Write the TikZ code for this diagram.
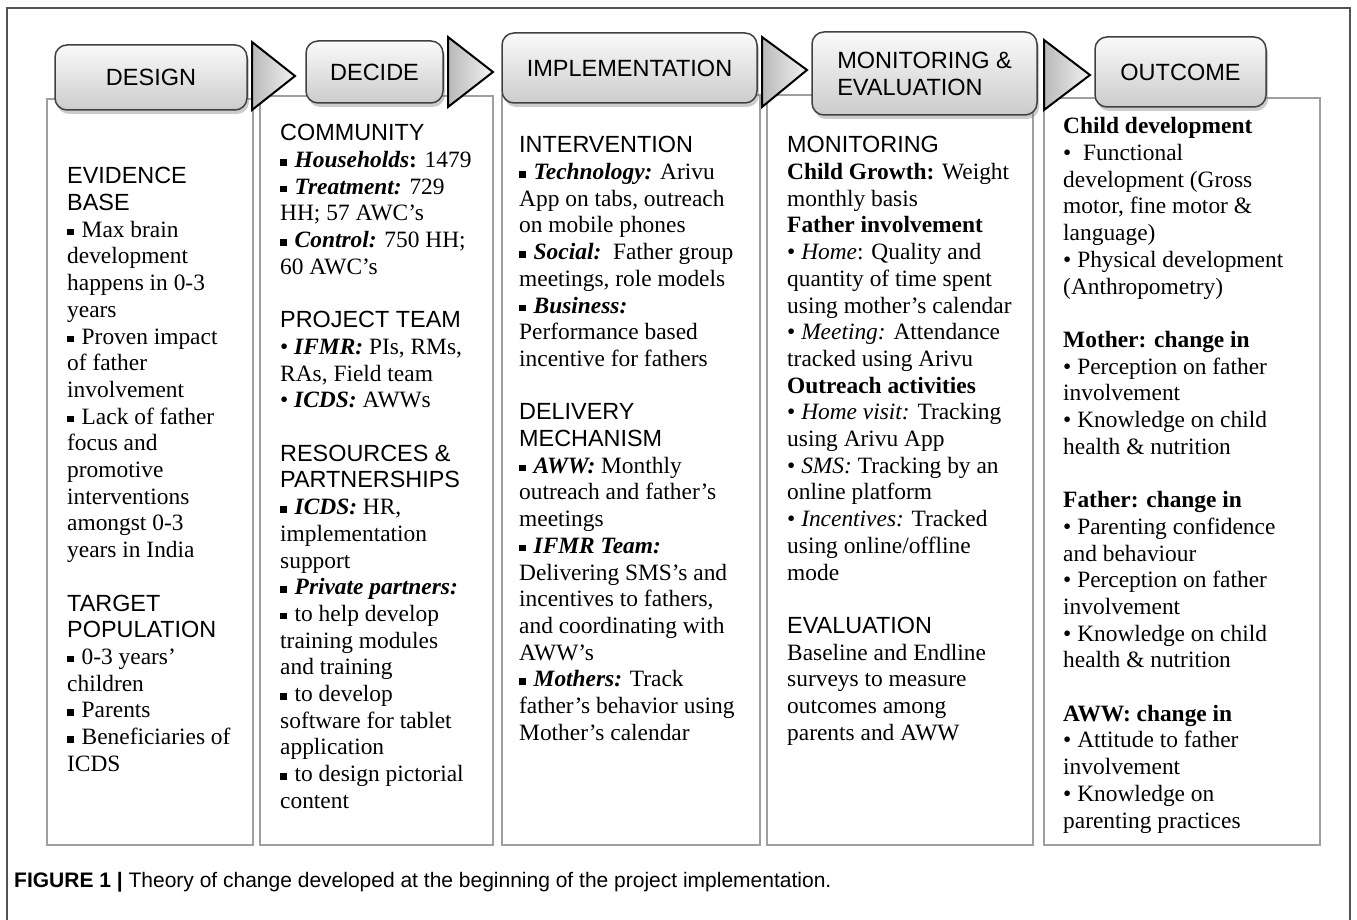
\documentclass[tikz,border=0pt]{standalone}
\usepackage{fontspec}
\setmainfont{Liberation Serif}
\setsansfont{Liberation Sans}
\usetikzlibrary{shadows}
\newcommand{\sqbul}{\rule[2pt]{6.5pt}{6.5pt}\hspace{8pt}}
\tikzset{
  stage/.style={draw=gray!50!black, line width=1.5pt, rounded corners=12pt,
    top color=gray!4, bottom color=gray!40,
    drop shadow={shadow xshift=2pt, shadow yshift=-4pt, opacity=0.4},
    font=\sffamily\fontsize{23.5}{27}\selectfont, inner sep=0pt},
  chev/.style={draw=black, line width=2pt, left color=gray!55, right color=gray!10},
  col/.style={draw=gray!75, line width=1.5pt},
  txt/.style={anchor=north west, align=left, inner sep=0pt,
    font=\fontsize{23.4}{26.7}\selectfont},
}
\begin{document}
\begin{tikzpicture}[x=1pt,y=-1pt]
\useasboundingbox (0,0) rectangle (1357,920);
% outer frame
\draw[gray!65!black, line width=1.2pt] (7,920) -- (7,8) -- (1350,8) -- (1350,920);
% column boxes
\draw[col] (47,99) rectangle (253,845);
\draw[col] (260,96) rectangle (493,845);
\draw[col] (502,95) rectangle (760,845);
\draw[col] (767,95) rectangle (1033,845);
\draw[col] (1044,98) rectangle (1320,845);
% chevrons
\draw[chev] (252,42) -- (295,76) -- (252,110) -- cycle;
\draw[chev] (448,37) -- (493,72) -- (448,107) -- cycle;
\draw[chev] (762,37) -- (807,70) -- (762,107) -- cycle;
\draw[chev] (1044,40) -- (1090,75) -- (1044,110) -- cycle;
% stage headers
\node[stage, minimum width=192pt, minimum height=65pt] (design) at (151,77.5) {DESIGN};
\node[stage, minimum width=137pt, minimum height=62pt] (decide) at (374.5,72) {DECIDE};
\node[stage, minimum width=255pt, minimum height=70pt] (implement) at (629.5,68) {IMPLEMENTATION};
\node[stage, minimum width=225pt, minimum height=83pt, align=left] (monev) at (924.5,73.5) {MONITORING \&\\EVALUATION};
\node[stage, minimum width=171pt, minimum height=70pt] (outcome) at (1180.5,72) {OUTCOME};
% column texts
\node[txt] (designtxt) at (67,165) {\strut\textsf{EVIDENCE}\\
\textsf{BASE}\\
\sqbul Max brain\\
development\\
happens in 0-3\\
years\\
\sqbul Proven impact\\
of father\\
involvement\\
\sqbul Lack of father\\
focus and\\
promotive\\
interventions\\
amongst 0-3\\
years in India\\[26.7pt]
\textsf{TARGET}\\
\textsf{POPULATION}\\
\sqbul 0-3 years’\\
children\\
\sqbul Parents\\
\sqbul Beneficiaries of\\
ICDS};
\node[txt] (decidetxt) at (280,122) {\strut\textsf{COMMUNITY}\\
\sqbul \textbf{\textit{Households}:} 1479\\
\sqbul \textbf{\textit{Treatment:}} 729\\
HH; 57 AWC’s\\
\sqbul \textbf{\textit{Control:}} 750 HH;\\
60 AWC’s\\[26.7pt]
\textsf{PROJECT TEAM}\\
• \textbf{\textit{IFMR:}} PIs, RMs,\\
RAs, Field team\\
• \textbf{\textit{ICDS:}} AWWs\\[26.7pt]
\textsf{RESOURCES \&}\\
\textsf{PARTNERSHIPS}\\
\sqbul \textbf{\textit{ICDS:}} HR,\\
implementation\\
support\\
\sqbul \textbf{\textit{Private partners:}}\\
\sqbul to help develop\\
training modules\\
and training\\
\sqbul to develop\\
software for tablet\\
application\\
\sqbul to design pictorial\\
content};
\node[txt] (implementtxt) at (519,134) {\strut\textsf{INTERVENTION}\\
\sqbul \textbf{\textit{Technology:}} Arivu\\
App on tabs, outreach\\
on mobile phones\\
\sqbul \textbf{\textit{Social:}}\ \ Father group\\
meetings, role models\\
\sqbul \textbf{\textit{Business:}}\\
Performance based\\
incentive for fathers\\[26.7pt]
\textsf{DELIVERY}\\
\textsf{MECHANISM}\\
\sqbul \textbf{\textit{AWW:}} Monthly\\
outreach and father’s\\
meetings\\
\sqbul \textbf{\textit{IFMR Team:}}\\
Delivering SMS’s and\\
incentives to fathers,\\
and coordinating with\\
AWW’s\\
\sqbul \textbf{\textit{Mothers:}} Track\\
father’s behavior using\\
Mother’s calendar};
\node[txt] (monevtxt) at (787,134) {\strut\textsf{MONITORING}\\
\textbf{Child Growth:} Weight\\
monthly basis\\
\textbf{Father involvement}\\
• \textit{Home}: Quality and\\
quantity of time spent\\
using mother’s calendar\\
• \textit{Meeting:} Attendance\\
tracked using Arivu\\
\textbf{Outreach activities}\\
• \textit{Home visit:} Tracking\\
using Arivu App\\
• \textit{SMS:} Tracking by an\\
online platform\\
• \textit{Incentives:} Tracked\\
using online/offline\\
mode\\[26.7pt]
\textsf{EVALUATION}\\
Baseline and Endline\\
surveys to measure\\
outcomes among\\
parents and AWW};
\node[txt] (outcometxt) at (1063,115) {\strut\textbf{Child development}\\
•\ \ Functional\\
development (Gross\\
motor, fine motor \&\\
language)\\
• Physical development\\
(Anthropometry)\\[26.7pt]
\textbf{Mother: change in}\\
• Perception on father\\
involvement\\
• Knowledge on child\\
health \& nutrition\\[26.7pt]
\textbf{Father: change in}\\
• Parenting confidence\\
and behaviour\\
• Perception on father\\
involvement\\
• Knowledge on child\\
health \& nutrition\\[26.7pt]
\textbf{AWW: change in}\\
• Attitude to father\\
involvement\\
• Knowledge on\\
parenting practices};
% caption
\node[anchor=base west, inner sep=0pt, font=\sffamily\fontsize{21}{24}\selectfont] (caption) at (14,887)
  {\textbf{FIGURE 1 |} Theory of change developed at the beginning of the project implementation.};
\end{tikzpicture}
\end{document}
